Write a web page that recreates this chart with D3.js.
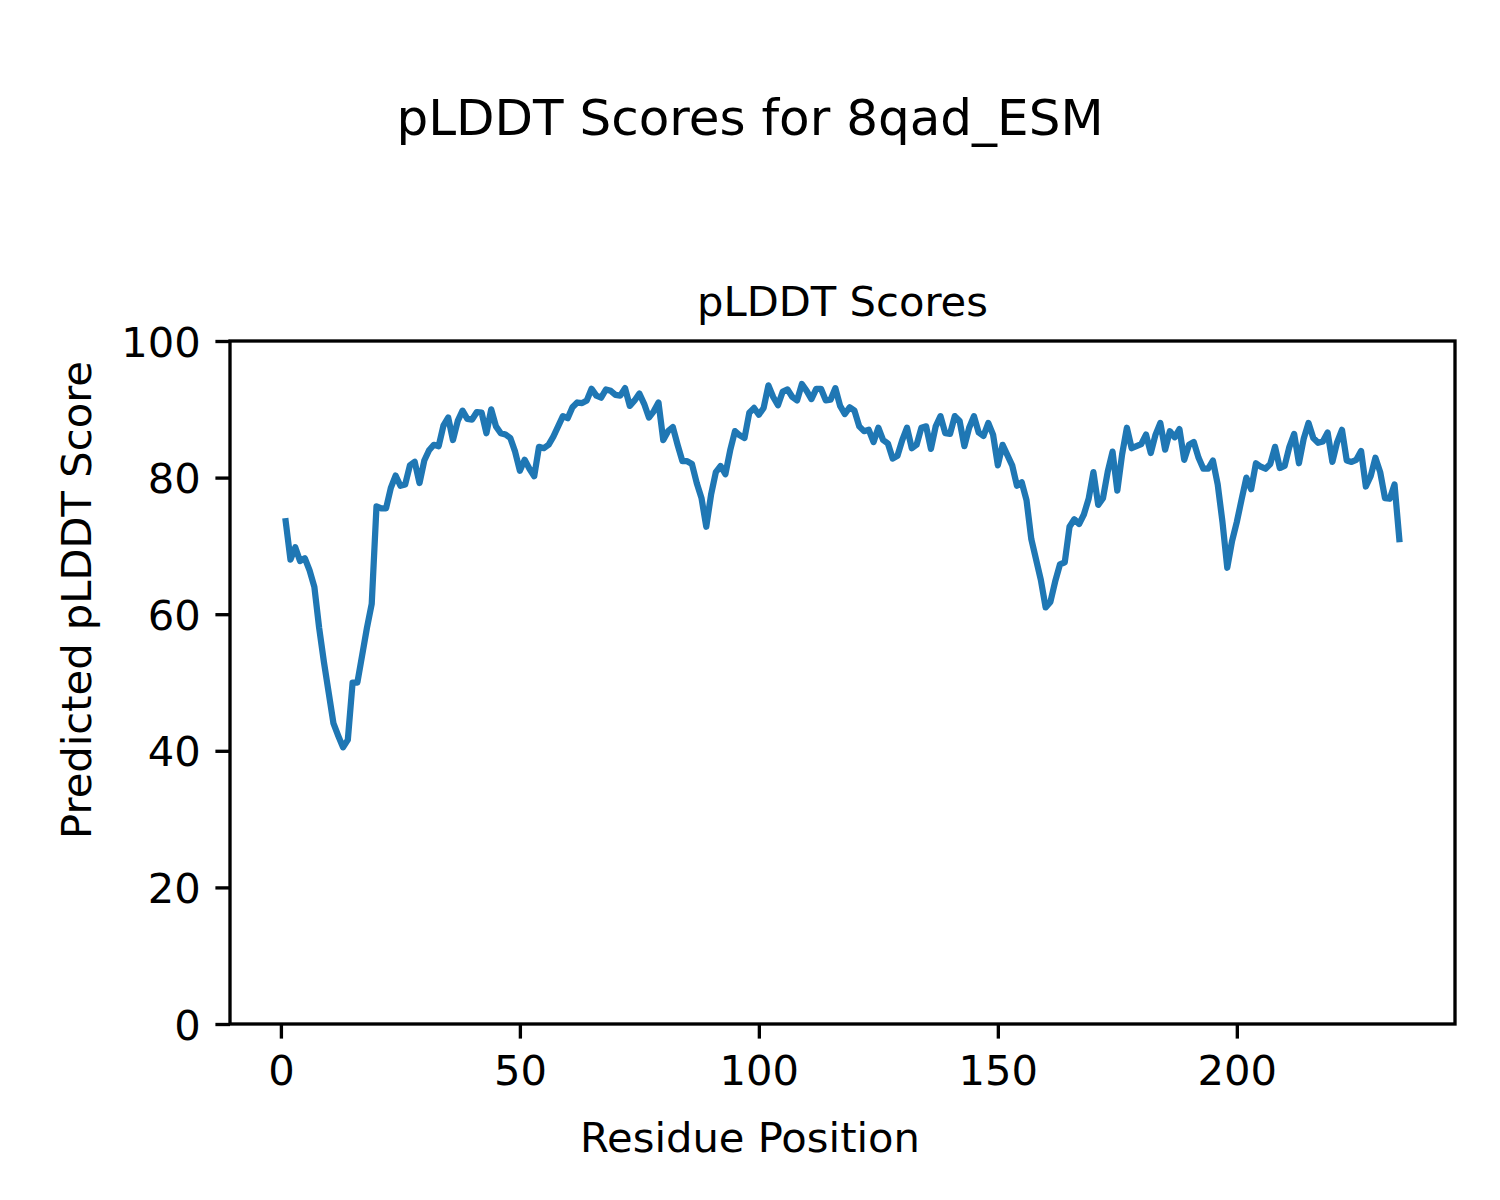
<!DOCTYPE html>
<html>
<head>
<meta charset="utf-8">
<script src="https://cdn.jsdelivr.net/npm/d3@7"></script>
<style>
  body { margin: 0; background: #fff; }
  svg { display: block; font-family: "DejaVu Sans", sans-serif; }
</style>
</head>
<body>
<svg id="chart" width="1500" height="1200"></svg>
<script>
const figureTitle = "pLDDT Scores for 8qad_ESM";
const axesTitle = "pLDDT Scores";
const xLabel = "Residue Position";
const yLabel = "Predicted pLDDT Score";
const xTicks = [0, 50, 100, 150, 200];
const yTicks = [0, 20, 40, 60, 80, 100];

const plddt = [
  73.6, 68.0, 69.8, 67.8, 68.2, 66.4, 64.0, 58.0, 53.0, 48.5,
  44.0, 42.2, 40.5, 41.6, 50.0, 50.0, 54.0, 58.0, 61.5, 75.8,
  75.5, 75.5, 78.5, 80.3, 78.8, 79.0, 81.8, 82.3, 79.2, 82.5,
  84.0, 84.8, 84.6, 87.6, 88.8, 85.5, 88.3, 89.8, 88.6, 88.5,
  89.6, 89.5, 86.5, 90.0, 87.5, 86.5, 86.3, 85.8, 83.8, 81.0,
  82.6, 81.3, 80.2, 84.5, 84.3, 84.8, 86.0, 87.5, 89.0, 88.7,
  90.3, 91.0, 90.9, 91.3, 93.0, 92.0, 91.7, 92.9, 92.7, 92.1,
  92.0, 93.1, 90.5, 91.3, 92.3, 90.8, 88.8, 89.7, 91.0, 85.5,
  86.8, 87.4, 84.8, 82.4, 82.4, 82.0, 79.2, 77.0, 72.8, 77.5,
  80.8, 81.7, 80.5, 84.0, 86.8, 86.2, 85.8, 89.5, 90.2, 89.2,
  90.2, 93.5, 91.8, 90.6, 92.6, 92.9, 91.8, 91.3, 93.7, 92.7,
  91.5, 93.0, 93.0, 91.3, 91.4, 93.1, 90.5, 89.3, 90.3, 89.8,
  87.5, 86.8, 87.0, 85.2, 87.3, 85.5, 85.0, 82.8, 83.2, 85.5,
  87.3, 84.3, 84.8, 87.3, 87.5, 84.2, 87.5, 89.0, 86.5, 86.4,
  89.0, 88.3, 84.6, 87.3, 89.0, 86.6, 86.1, 88.0, 86.3, 81.8,
  84.8, 83.3, 81.8, 78.8, 79.3, 76.7, 71.0, 68.0, 65.0, 61.0,
  61.8, 64.8, 67.3, 67.6, 72.8, 73.9, 73.2, 74.6, 76.9, 80.8,
  76.0, 77.0, 80.9, 83.8, 78.1, 83.4, 87.3, 84.3, 84.6, 84.9,
  86.3, 83.6, 86.3, 88.0, 84.1, 86.8, 85.9, 87.1, 82.6, 84.8,
  85.2, 82.9, 81.3, 81.3, 82.5, 79.0, 73.5, 66.8, 70.7, 73.5,
  76.8, 80.0, 78.3, 82.1, 81.6, 81.3, 82.0, 84.5, 81.4, 81.7,
  84.5, 86.4, 82.1, 85.7, 88.0, 85.8, 85.1, 85.3, 86.6, 82.3,
  85.2, 87.0, 82.5, 82.3, 82.6, 83.9, 78.7, 80.2, 82.9, 80.8,
  77.0, 76.9, 79.0, 71.0
];
const residues = plddt.map((_, i) => i + 1);

const svg = d3.select("#chart");
const W = 1500, H = 1200;
const mLeft = 230, mRight = 1455, mTop = 341, mBottom = 1024;
const fs = 41.67;
const tickLen = 14.6;

const n = residues.length;
const span = residues[n - 1] - residues[0];
const x = d3.scaleLinear()
  .domain([residues[0] - 0.05 * span, residues[n - 1] + 0.05 * span])
  .range([mLeft, mRight]);
const y = d3.scaleLinear().domain([0, 100]).range([mBottom, mTop]);

// Titles
svg.append("text").attr("x", W / 2).attr("y", 135)
  .attr("text-anchor", "middle").attr("font-size", 50).text(figureTitle);
svg.append("text").attr("x", (mLeft + mRight) / 2).attr("y", 316)
  .attr("text-anchor", "middle").attr("font-size", fs).text(axesTitle);

// Line
const line = d3.line().x((d, i) => x(residues[i])).y(d => y(d));
svg.append("path").datum(plddt)
  .attr("fill", "none").attr("stroke", "#1f77b4")
  .attr("stroke-width", 6.25).attr("stroke-linejoin", "round")
  .attr("stroke-linecap", "square")
  .attr("d", line);

// Axes
const xAxis = d3.axisBottom(x).tickValues(xTicks).tickSize(tickLen).tickPadding(14.6).tickSizeOuter(0);
const yAxis = d3.axisLeft(y).tickValues(yTicks).tickSize(tickLen).tickPadding(14.6).tickSizeOuter(0);

const gx = svg.append("g").attr("transform", `translate(0,${mBottom})`).call(xAxis);
const gy = svg.append("g").attr("transform", `translate(${mLeft},0)`).call(yAxis);
[gx, gy].forEach(g => {
  g.select(".domain").remove();
  g.selectAll(".tick line").attr("stroke", "#000").attr("stroke-width", 3.33);
  g.selectAll(".tick text").attr("font-size", fs).attr("fill", "#000")
    .attr("font-family", "DejaVu Sans, sans-serif");
});
gx.selectAll(".tick text").attr("dy", "0.76em");
gy.selectAll(".tick text").attr("dy", "0.36em");

// Frame
svg.append("rect").attr("x", mLeft).attr("y", mTop)
  .attr("width", mRight - mLeft).attr("height", mBottom - mTop)
  .attr("fill", "none").attr("stroke", "#000").attr("stroke-width", 3.33);

// Axis labels (centred on the figure, as in the reference)
svg.append("text").attr("x", W / 2).attr("y", 1152)
  .attr("text-anchor", "middle").attr("font-size", fs).text(xLabel);
svg.append("text").attr("transform", `translate(91,${H / 2}) rotate(-90)`)
  .attr("text-anchor", "middle").attr("font-size", fs).text(yLabel);
</script>
</body>
</html>
